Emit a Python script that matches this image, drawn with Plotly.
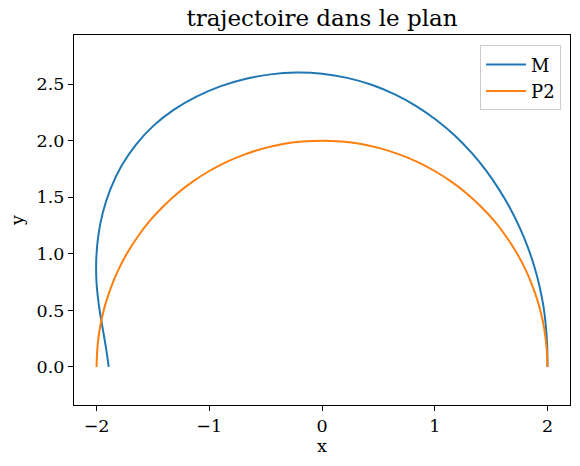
import plotly.graph_objects as go

# Trajectory M
m_x = [2.000, 1.998, 1.987, 1.966, 1.932, 1.886, 1.827, 1.755, 1.670, 1.570,
       1.456, 1.326, 1.180, 1.017, 0.839, 0.646, 0.440, 0.224, 0.000,
       -0.228, -0.456, -0.682, -0.903, -1.114, -1.313, -1.494, -1.650, -1.778,
       -1.876, -1.945, -1.986, -2.003, -1.999, -1.977, -1.946, -1.916, -1.892]
m_y = [0.000, 0.175, 0.350, 0.527, 0.703, 0.879, 1.055, 1.229, 1.401, 1.570,
       1.735, 1.894, 2.044, 2.181, 2.304, 2.409, 2.494, 2.555, 2.592,
       2.602, 2.586, 2.545, 2.480, 2.389, 2.274, 2.133, 1.966, 1.778,
       1.574, 1.362, 1.147, 0.934, 0.727, 0.530, 0.343, 0.168, 0.000]

# Trajectory P2
p2_x = [2.000, 1.992, 1.970, 1.932, 1.879, 1.813, 1.732, 1.638, 1.532, 1.414, 1.286,
        1.147, 1.000, 0.845, 0.684, 0.518, 0.347, 0.174, 0.000,
        -0.174, -0.347, -0.518, -0.684, -0.845, -1.000, -1.147, -1.286, -1.414,
        -1.532, -1.638, -1.732, -1.813, -1.879, -1.932, -1.970, -1.992, -2.000]
p2_y = [0.000, 0.174, 0.347, 0.518, 0.684, 0.845, 1.000, 1.147, 1.286, 1.414, 1.532,
        1.638, 1.732, 1.813, 1.879, 1.932, 1.970, 1.992, 2.000,
        1.992, 1.970, 1.932, 1.879, 1.813, 1.732, 1.638, 1.532, 1.414,
        1.286, 1.147, 1.000, 0.845, 0.684, 0.518, 0.347, 0.174, 0.000]

x_ticks = [-2, -1, 0, 1, 2]
y_ticks = [0.0, 0.5, 1.0, 1.5, 2.0, 2.5]

FONT = "DejaVu Serif"

fig = go.Figure()
fig.add_trace(go.Scatter(x=m_x, y=m_y, mode="lines", name="M",
                         line=dict(color="#1f77b4", width=2, shape="spline", smoothing=1.0)))
fig.add_trace(go.Scatter(x=p2_x, y=p2_y, mode="lines", name="P2",
                         line=dict(color="#ff7f0e", width=2, shape="spline", smoothing=1.0)))

axis_common = dict(showgrid=False, zeroline=False, showline=True, linecolor="black",
                   linewidth=1.2, mirror=True, ticks="outside", ticklen=5, tickwidth=1.2,
                   tickcolor="black", automargin=False,
                   tickfont=dict(family=FONT, size=17.5, color="black"))

fig.update_layout(
    width=580, height=466,
    margin=dict(l=74, r=10, t=35, b=61),
    paper_bgcolor="white", plot_bgcolor="white",
    font=dict(family=FONT, color="black"),
    title=dict(text="trajectoire dans le plan", x=0.5, xref="paper", xanchor="center",
               y=0.962, yanchor="middle", font=dict(family=FONT, size=23, color="black")),
    xaxis=dict(range=[-2.2, 2.2], tickvals=x_ticks,
               title=dict(text="x", font=dict(family=FONT, size=17.5), standoff=4),
               **axis_common),
    yaxis=dict(range=[-0.336, 2.934], tickvals=y_ticks, tickformat=".1f",
               title=dict(text="y", font=dict(family=FONT, size=17.5), standoff=8),
               **axis_common),
    legend=dict(x=0.982, y=0.972, xanchor="right", yanchor="top",
                bgcolor="rgba(255,255,255,0.8)", bordercolor="#cccccc", borderwidth=1,
                font=dict(family=FONT, size=18, color="black"),
                itemwidth=40, tracegroupgap=0),
    showlegend=True,
)

fig.write_html("out.html", config={"displayModeBar": False},
               post_script="document.body.style.margin='0';")
